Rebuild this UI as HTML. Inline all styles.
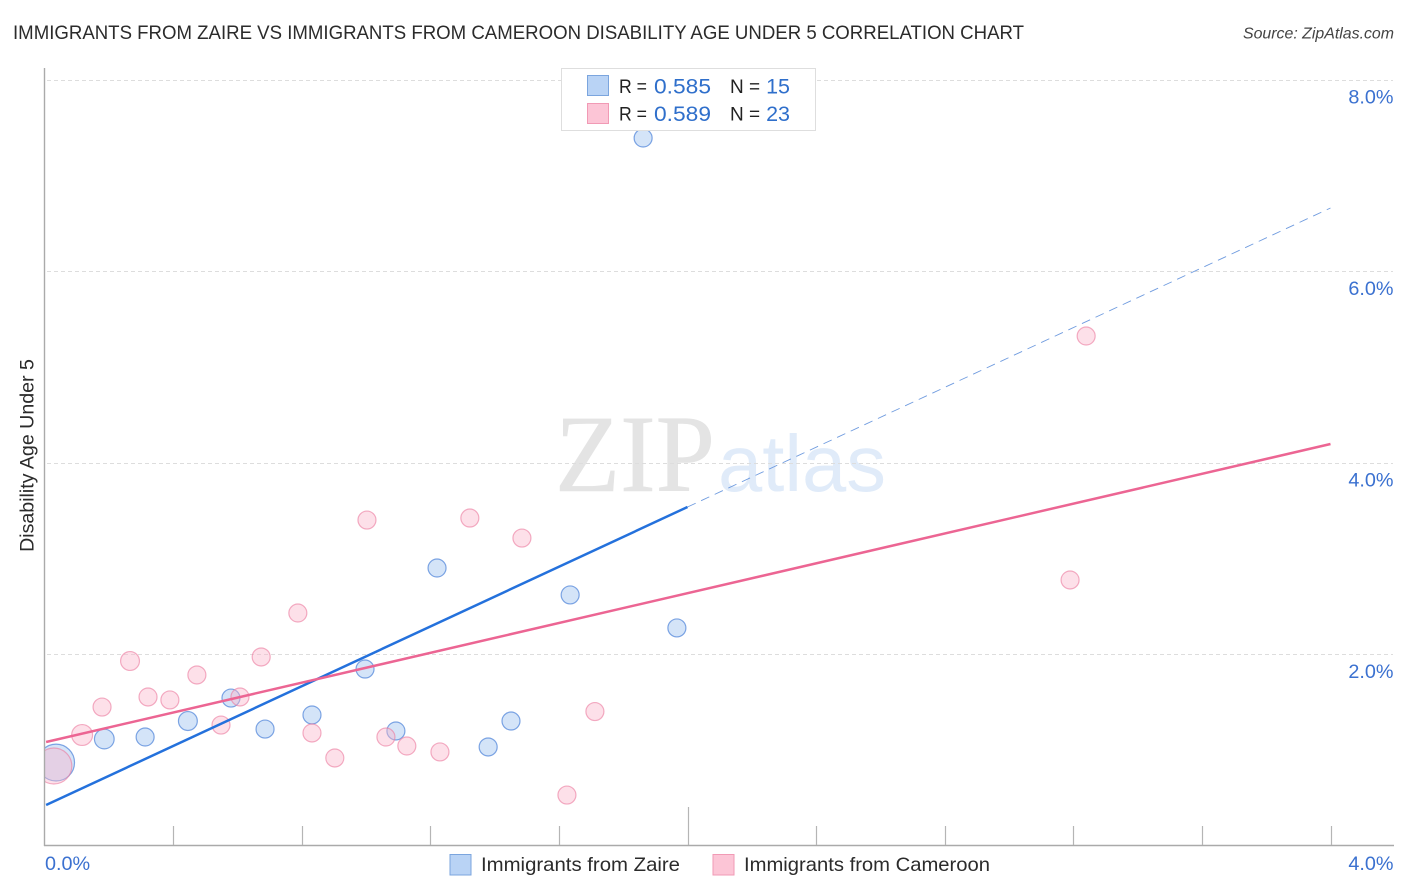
<!DOCTYPE html>
<html lang="en">
<head>
<meta charset="utf-8">
<title>Immigrants from Zaire vs Immigrants from Cameroon Disability Age Under 5 Correlation Chart</title>
<style>
html,body{margin:0;padding:0;background:#fff;width:1406px;height:892px;overflow:hidden}
svg{display:block}
text{font-family:"Liberation Sans",sans-serif}
</style>
</head>
<body>
<svg id="chart" xmlns="http://www.w3.org/2000/svg" width="1406" height="892" viewBox="0 0 1406 892">
  <rect x="0" y="0" width="1406" height="892" fill="#ffffff"/>
  <text x="13" y="39" font-size="19.5" fill="#2b2b2b" textLength="1011" lengthAdjust="spacingAndGlyphs">IMMIGRANTS FROM ZAIRE VS IMMIGRANTS FROM CAMEROON DISABILITY AGE UNDER 5 CORRELATION CHART</text>
  <text x="1394" y="38.5" font-size="15.9" font-style="italic" fill="#444444" text-anchor="end">Source: ZipAtlas.com</text>

  <g>
    <text x="555" y="491" font-size="110" fill="#e4e4e4" stroke="#e4e4e4" stroke-width="0.6" textLength="160" lengthAdjust="spacingAndGlyphs" style="font-family:'Liberation Serif',serif">ZIP</text>
    <text x="718" y="491" font-size="80" fill="#e0ebf9" textLength="168" lengthAdjust="spacingAndGlyphs">atlas</text>
  </g>

  <g id="grid-layer"></g>
  <g id="point-layer"></g>
  <rect x="0" y="700" width="44.5" height="120" fill="#ffffff"/>
  <g id="axis-layer"></g>
  <g id="trend-layer"></g>
  <g id="tick-label-layer"></g>

  <text transform="translate(33.5,455.5) rotate(-90)" font-size="19.6" fill="#2b2b2b" text-anchor="middle">Disability Age Under 5</text>

  <g>
    <rect x="561.5" y="68.5" width="254" height="62" fill="#ffffff" stroke="#dedede" stroke-width="1"/>
    <rect x="587.5" y="75.5" width="21" height="20" fill="#b9d3f5" stroke="#7ba5de" stroke-width="1"/>
    <rect x="587.5" y="103.5" width="21" height="20" fill="#fcc5d6" stroke="#f19ab5" stroke-width="1"/>
    <text x="619" y="93" font-size="19" fill="#222222" textLength="28" lengthAdjust="spacingAndGlyphs">R =</text>
    <text x="654" y="93.5" font-size="21.5" fill="#2f6fcb" textLength="57" lengthAdjust="spacingAndGlyphs">0.585</text>
    <text x="730" y="93" font-size="19" fill="#222222">N =</text>
    <text x="790" y="93.5" font-size="21.5" fill="#2f6fcb" text-anchor="end">15</text>
    <text x="619" y="120.5" font-size="19" fill="#222222" textLength="28" lengthAdjust="spacingAndGlyphs">R =</text>
    <text x="654" y="121" font-size="21.5" fill="#2f6fcb" textLength="57" lengthAdjust="spacingAndGlyphs">0.589</text>
    <text x="730" y="120.5" font-size="19" fill="#222222">N =</text>
    <text x="790" y="121" font-size="21.5" fill="#2f6fcb" text-anchor="end">23</text>
  </g>

  <g>
    <g>
      <rect x="450" y="854.5" width="21" height="20.5" fill="#b9d3f5" stroke="#7ba5de" stroke-width="1"/>
      <text x="481" y="871" font-size="19.8" fill="#2b2b2b" textLength="199" lengthAdjust="spacingAndGlyphs">Immigrants from Zaire</text>
    </g>
    <g>
      <rect x="713" y="854.5" width="21" height="20.5" fill="#fcc5d6" stroke="#f19ab5" stroke-width="1"/>
      <text x="744" y="871" font-size="19.8" fill="#2b2b2b" textLength="246" lengthAdjust="spacingAndGlyphs">Immigrants from Cameroon</text>
    </g>
  </g>
</svg>
<script>
// Chart data (x and y in percent)
const zaireX = [0.036, 0.186, 0.313, 0.446, 0.580, 0.686, 0.832, 0.997, 1.093, 1.221, 1.380, 1.451, 1.635, 1.862, 1.967];
const zaireY = [0.866, 1.112, 1.133, 1.300, 1.540, 1.216, 1.363, 1.843, 1.196, 2.898, 1.029, 1.300, 2.617, 7.389, 2.272];
const zairePopulation = [4.2, 1.2, 1, 1.1, 1, 1, 1, 1, 1, 1, 1, 1, 1, 1, 1];
const cameroonX = [0.029, 0.117, 0.179, 0.266, 0.322, 0.390, 0.474, 0.549, 0.608, 0.674, 0.788, 0.832, 0.903, 1.003, 1.062, 1.127, 1.230, 1.323, 1.485, 1.625, 1.712, 3.190, 3.240];
const cameroonY = [0.830, 1.154, 1.446, 1.927, 1.551, 1.520, 1.781, 1.258, 1.551, 1.969, 2.428, 1.175, 0.914, 3.399, 1.133, 1.039, 0.977, 3.420, 3.211, 0.527, 1.399, 2.773, 5.321];
const cameroonPopulation = [4, 1.35, 1, 1.1, 1, 1, 1, 1, 1, 1, 1, 1, 1, 1, 1, 1, 1, 1, 1, 1, 1, 1, 1];

const zaireTrendX = [0.005, 2.0];
const zaireTrendY = [0.423, 3.535];
const zaireProjectionX = [2.0, 4.0];
const zaireProjectionY = [3.535, 6.658];
const cameroonTrendX = [0.005, 4.0];
const cameroonTrendY = [1.081, 4.193];

const yGridValues = [2, 4, 6, 8];
const yTickLabels = ['2.0%', '4.0%', '6.0%', '8.0%'];
const xTickValues = [0.4, 0.8, 1.2, 1.6, 2.0, 2.4, 2.8, 3.2, 3.6, 4.0];
const xMajorTickValues = [2.0, 4.0];

// Axis functions
function xScale(v) { return 44.5 + v * 321.5; }
function yScale(v) { return 845.5 - v * 95.75; }
function rScale(p) { return 9 * Math.sqrt(p); }

const NS = 'http://www.w3.org/2000/svg';
const gridLayer = document.getElementById('grid-layer');
const axisLayer = document.getElementById('axis-layer');
const pointLayer = document.getElementById('point-layer');
const trendLayer = document.getElementById('trend-layer');
const tickLabelLayer = document.getElementById('tick-label-layer');

function line(parent, x1, y1, x2, y2, stroke, width, dash) {
  const el = document.createElementNS(NS, 'line');
  el.setAttribute('x1', x1);
  el.setAttribute('y1', y1);
  el.setAttribute('x2', x2);
  el.setAttribute('y2', y2);
  el.setAttribute('stroke', stroke);
  el.setAttribute('stroke-width', width);
  if (dash) el.setAttribute('stroke-dasharray', dash);
  parent.appendChild(el);
  return el;
}

yGridValues.forEach(function (v, i) {
  const y = Math.round(yScale(v)) + 0.5;
  const grid = line(gridLayer, 47, y, 1393, y, '#dddddd', 1, '4 3');
  
  

  const label = document.createElementNS(NS, 'text');
  
  
  label.setAttribute('x', 1393.5);
  label.setAttribute('y', yScale(v) + 24);
  label.setAttribute('font-size', '19.8');
  label.setAttribute('fill', '#3b71d0');
  label.setAttribute('text-anchor', 'end');
  label.textContent = yTickLabels[i];
  tickLabelLayer.appendChild(label);
});

const yAxis = line(axisLayer, 44.5, 68, 44.5, 846, '#aaaaaa', 1.4);


const xAxis = line(axisLayer, 44, 845.5, 1394, 845.5, '#aaaaaa', 1.4);



xTickValues.forEach(function (v) {
  const x = Math.round(xScale(v)) + 0.5;
  const top = (v === xMajorTickValues[0]) ? 807 : 826;
  const tick = line(axisLayer, x, top, x, 845, '#b5b5b5', 1.2);
  
  
});

function drawSeries(xs, ys, sizes, fill, stroke, name) {
  xs.forEach(function (xv, i) {
    const c = document.createElementNS(NS, 'circle');
    
    
    c.setAttribute('cx', xScale(xv));
    c.setAttribute('cy', yScale(ys[i]));
    c.setAttribute('r', rScale(sizes[i]));
    c.setAttribute('fill', fill);
    c.setAttribute('stroke', stroke);
    c.setAttribute('stroke-width', '1.2');
    pointLayer.appendChild(c);
  });
}
drawSeries(zaireX, zaireY, zairePopulation, 'rgba(160,196,240,0.45)', 'rgba(70,125,215,0.68)', 'point-zaire');
drawSeries(cameroonX, cameroonY, cameroonPopulation, 'rgba(250,180,202,0.42)', 'rgba(235,125,160,0.62)', 'point-cameroon');

const zaireProjection = line(trendLayer, xScale(zaireProjectionX[0]), yScale(zaireProjectionY[0]), xScale(zaireProjectionX[1]), yScale(zaireProjectionY[1]), '#6f9bdf', 0.9, '9 6');


const zaireTrend = line(trendLayer, xScale(zaireTrendX[0]), yScale(zaireTrendY[0]), xScale(zaireTrendX[1]), yScale(zaireTrendY[1]), '#2471dc', 2.5);


const cameroonTrend = line(trendLayer, xScale(cameroonTrendX[0]), yScale(cameroonTrendY[0]), xScale(cameroonTrendX[1]), yScale(cameroonTrendY[1]), '#ec6593', 2.5);



const xLabelStart = document.createElementNS(NS, 'text');


xLabelStart.setAttribute('x', 45);
xLabelStart.setAttribute('y', 870);
xLabelStart.setAttribute('font-size', '19.8');
xLabelStart.setAttribute('fill', '#3b71d0');
xLabelStart.textContent = '0.0%';
tickLabelLayer.appendChild(xLabelStart);

const xLabelEnd = document.createElementNS(NS, 'text');


xLabelEnd.setAttribute('x', 1393.5);
xLabelEnd.setAttribute('y', 870);
xLabelEnd.setAttribute('font-size', '19.8');
xLabelEnd.setAttribute('fill', '#3b71d0');
xLabelEnd.setAttribute('text-anchor', 'end');
xLabelEnd.textContent = '4.0%';
tickLabelLayer.appendChild(xLabelEnd);
</script>
</body>
</html>
